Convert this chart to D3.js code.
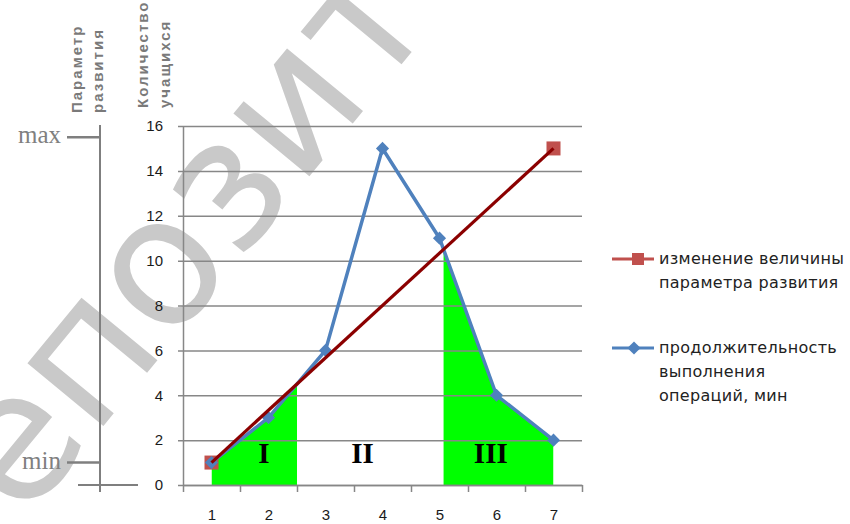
<!DOCTYPE html>
<html>
<head>
<meta charset="utf-8">
<script src="https://cdn.jsdelivr.net/npm/d3@7"></script>
<style>
body { margin: 0; background: #fff; }
svg { display: block; }
</style>
</head>
<body>
<svg id="chart" width="850" height="524"></svg>
<script>
// Chart data
var categories = [1, 2, 3, 4, 5, 6, 7];
var durationValues = [1, 3, 6, 15, 11, 4, 2];
var paramCategories = [1, 7];
var paramValues = [1, 15];
var yTicks = [0, 2, 4, 6, 8, 10, 12, 14, 16];
var zoneNames = ['I', 'II', 'III'];
var zoneFilled = [true, false, true];
var zoneLabelAt = [1.92, 3.65, 5.9];
var paramAxisLabels = ['min', 'max'];
var paramAxisValues = [1, 15.5];
var yTitle = ['Количество', 'учащихся'];
var paramTitle = ['Параметр', 'развития'];
var legendParam = ['изменение величины', 'параметра развития'];
var legendDuration = ['продолжительность', 'выполнения', 'операций, мин'];
var watermark = 'репозиторий';

var svg = d3.select('#chart');
var gridColor = '#878787';

var x = d3.scaleLinear().domain([0.5, 7.5]).range([183, 582]);
var y = d3.scaleLinear().domain([0, 16]).range([485, 126]);

// where the blue line crosses the red one, on the segment 5 -> 6
function redAt(t) {
	return paramValues[0] + (t - paramCategories[0]) * (paramValues[1] - paramValues[0]) / (paramCategories[1] - paramCategories[0]);
}
function crossing(i) {
	var a = durationValues[i], b = durationValues[i + 1];
	var ra = redAt(categories[i]), rb = redAt(categories[i + 1]);
	return categories[i] + (ra - a) / ((b - a) - (rb - ra));
}
var cross = crossing(4);
var zoneBounds = [[1, 2.5], [2.5, cross], [cross, 7]];

// watermark behind everything
svg.append('text')
	.attr('transform', 'translate(-50,612) rotate(-50.5)')
	.attr('font-family', 'DejaVu Sans')
	.attr('font-size', 180)
	.attr('fill', '#c9c9c9')
	.text(watermark);

// green zones under the blue line
var defs = svg.append('defs');
zoneBounds.forEach(function(b, i) {
	if (!zoneFilled[i]) return;
	defs.append('clipPath').attr('id', 'zone' + i)
		.append('rect')
		.attr('x', x(b[0]))
		.attr('y', 0)
		.attr('width', x(b[1]) - x(b[0]))
		.attr('height', y(0));
});

var area = d3.area()
	.x(function(d, i) { return x(categories[i]); })
	.y0(y(0))
	.y1(function(d) { return y(d); });

zoneBounds.forEach(function(b, i) {
	if (!zoneFilled[i]) return;
	svg.append('path')
		.datum(durationValues)
		.attr('clip-path', 'url(#zone' + i + ')')
		.attr('fill', '#00ff00')
		.attr('d', area);
});

// grid + y axis
var yAxis = svg.append('g')
	.attr('transform', 'translate(' + x(0.5) + ',0)')
	.call(d3.axisLeft(y).tickValues(yTicks).tickSize(-(x(7.5) - x(0.5))).tickSizeOuter(0).tickPadding(20));
yAxis.select('.domain').attr('stroke', gridColor).attr('stroke-width', 1.5);
yAxis.selectAll('.tick line').attr('stroke', gridColor).attr('stroke-width', 1.5).attr('x1', -5);
yAxis.selectAll('.tick text')
	.attr('font-family', 'Liberation Sans')
	.attr('font-size', 15)
	.attr('fill', '#1a1a1a');

// x axis: tick marks between categories, labels at the centres
var xTickPos = d3.range(0.5, 8, 1);
var xAxis = svg.append('g')
	.attr('transform', 'translate(0,' + y(0) + ')')
	.call(d3.axisBottom(x).tickValues(xTickPos).tickSize(7).tickSizeOuter(0).tickFormat(''));
xAxis.select('.domain').attr('stroke', gridColor).attr('stroke-width', 1.5);
xAxis.selectAll('.tick line').attr('stroke', gridColor).attr('stroke-width', 1.5);

var xLabels = svg.append('g')
	.attr('transform', 'translate(0,' + y(0) + ')')
	.call(d3.axisBottom(x).tickValues(categories).tickSize(0).tickPadding(24).tickFormat(d3.format('d')));
xLabels.select('.domain').remove();
xLabels.selectAll('.tick text')
	.attr('font-family', 'Liberation Sans')
	.attr('font-size', 15)
	.attr('fill', '#1a1a1a');

// zone labels
svg.append('g').selectAll('text')
	.data(zoneNames)
	.enter().append('text')
	.attr('x', function(d, i) { return x(zoneLabelAt[i]); })
	.attr('y', y(1))
	.attr('text-anchor', 'middle')
	.attr('font-family', 'Liberation Serif')
	.attr('font-weight', 'bold')
	.attr('font-size', 29)
	.attr('fill', '#000')
	.text(function(d) { return d; });

// red series markers (under the blue line)
svg.append('g').selectAll('rect')
	.data(paramValues)
	.enter().append('rect')
	.attr('x', function(d, i) { return x(paramCategories[i]) - 7; })
	.attr('y', function(d) { return y(d) - 7; })
	.attr('width', 14)
	.attr('height', 14)
	.attr('fill', '#c0504d');

// blue series
var line = d3.line()
	.x(function(d, i) { return x(categories[i]); })
	.y(function(d) { return y(d); });

svg.append('path')
	.datum(durationValues)
	.attr('fill', 'none')
	.attr('stroke', '#4f81bd')
	.attr('stroke-width', 3.5)
	.attr('stroke-linejoin', 'round')
	.attr('d', line);

var diamond = d3.symbol().type(d3.symbolDiamond2).size(110);
svg.append('g').selectAll('path')
	.data(durationValues)
	.enter().append('path')
	.attr('transform', function(d, i) { return 'translate(' + x(categories[i]) + ',' + y(d) + ')'; })
	.attr('fill', '#4f81bd')
	.attr('d', diamond);

// red series line
svg.append('path')
	.datum(paramValues)
	.attr('fill', 'none')
	.attr('stroke', '#8b0000')
	.attr('stroke-width', 3.2)
	.attr('d', d3.line()
		.x(function(d, i) { return x(paramCategories[i]); })
		.y(function(d) { return y(d); }));

// left "parameter" axis
var axisGray = '#7f7f7f';
var pAxis = svg.append('g');
pAxis.append('line')
	.attr('x1', 100).attr('x2', 100)
	.attr('y1', 125).attr('y2', y(0) + 7)
	.attr('stroke', axisGray).attr('stroke-width', 2);
pAxis.append('line')
	.attr('x1', 78).attr('x2', 138)
	.attr('y1', y(0)).attr('y2', y(0))
	.attr('stroke', axisGray).attr('stroke-width', 2);
pAxis.selectAll('.pt')
	.data(paramAxisValues)
	.enter().append('line')
	.attr('x1', 67).attr('x2', 100)
	.attr('y1', function(d) { return y(d); })
	.attr('y2', function(d) { return y(d); })
	.attr('stroke', axisGray).attr('stroke-width', 2.5);
pAxis.selectAll('text')
	.data(paramAxisLabels)
	.enter().append('text')
	.attr('x', 61)
	.attr('y', function(d, i) { return y(paramAxisValues[i]) + 6; })
	.attr('text-anchor', 'end')
	.attr('font-family', 'Liberation Serif')
	.attr('font-size', 25)
	.attr('fill', '#808080')
	.text(function(d) { return d; });

// rotated axis titles
function rotatedTitle(lines, xs, bottom) {
	lines.forEach(function(t, i) {
		svg.append('text')
			.attr('transform', 'translate(' + xs[i] + ',' + bottom + ') rotate(-90)')
			.attr('font-family', 'Liberation Sans')
			.attr('font-weight', 'bold')
			.attr('font-size', 15)
			.attr('letter-spacing', 2)
			.attr('fill', '#7a7a7a')
			.text(t);
	});
}
rotatedTitle(paramTitle, [82, 103], 113);
rotatedTitle(yTitle, [148, 170], 108);

// legend
function legendEntry(lines, cy, color, symbol) {
	var g = svg.append('g');
	g.append('line')
		.attr('x1', 612).attr('x2', 654)
		.attr('y1', cy).attr('y2', cy)
		.attr('stroke', color).attr('stroke-width', 3);
	if (symbol === 'square') {
		g.append('rect').attr('x', 632).attr('y', cy - 6).attr('width', 12).attr('height', 12).attr('fill', color);
	} else {
		g.append('path').attr('transform', 'translate(634,' + cy + ')').attr('fill', color).attr('d', diamond);
	}
	g.selectAll('text')
		.data(lines)
		.enter().append('text')
		.attr('x', 659)
		.attr('y', function(d, i) { return cy + 5 + i * 24; })
		.attr('font-family', 'DejaVu Sans')
		.attr('font-size', 16)
		.attr('letter-spacing', 0.3)
		.attr('fill', '#222')
		.text(function(d) { return d; });
}
legendEntry(legendParam, 259, '#c0504d', 'square');
legendEntry(legendDuration, 348, '#4f81bd', 'diamond');
</script>
</body>
</html>
